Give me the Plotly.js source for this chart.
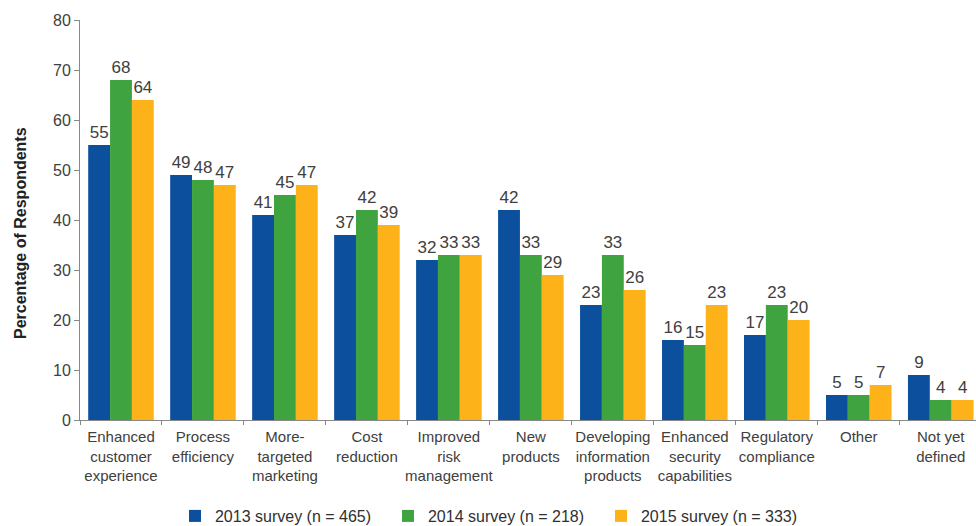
<!DOCTYPE html>
<html><head><meta charset="utf-8">
<script src="https://cdn.plot.ly/plotly-3.0.1.min.js"></script>
<style>html,body{margin:0;padding:0;background:#fff;}#chart{width:976px;height:526px;}</style>
</head><body><div id="chart"></div>
<script>
const categories = ["Enhanced<br>customer<br>experience","Process<br>efficiency","More-<br>targeted<br>marketing","Cost<br>reduction","Improved<br>risk<br>management","New<br>products","Developing<br>information<br>products","Enhanced<br>security<br>capabilities","Regulatory<br>compliance","Other","Not yet<br>defined"];
const seriesNames = ["2013 survey (n = 465)","2014 survey (n = 218)","2015 survey (n = 333)"];
const values2013 = [55,49,41,37,32,42,23,16,17,5,9];
const values2014 = [68,48,45,42,33,33,33,15,23,5,4];
const values2015 = [64,47,47,39,33,29,26,23,20,7,4];
const yTicks = [0,10,20,30,40,50,60,70,80];
const yTitle = "Percentage of Respondents";

const colors = ["#0b4f9d","#3fa33f","#fdb21a"];
const allVals = [values2013, values2014, values2015];
const traces = allVals.map((v,i)=>({
  type:'bar', x:categories, y:v, name:seriesNames[i],
  marker:{color:colors[i]},
  text:v.map(String), textposition:'outside', cliponaxis:false,
  textfont:{family:'Liberation Sans, Arial, sans-serif', size:17, color:'#404040'}
}));
const layout = {
  width:976, height:526,
  margin:{l:80, r:0, t:20, b:106},
  paper_bgcolor:'#fff', plot_bgcolor:'#fff',
  font:{family:'Liberation Sans, Arial, sans-serif', color:'#404040', size:14},
  barmode:'group', bargap:0.2, bargroupgap:0,
  showlegend:true,
  legend:{orientation:'h', x:0.106, xanchor:'left', yref:'container', y:0.019, yanchor:'middle',
    entrywidth:168, entrywidthmode:'pixels', itemwidth:30,
    font:{size:16, color:'#303030'}, traceorder:'normal'},
  xaxis:{type:'category', range:[-0.5,10.43], showline:true, linecolor:'#888', linewidth:1,
    ticks:'outside', tickson:'boundaries', ticklen:4, tickcolor:'#888', tickangle:0,
    ticklabelstandoff:3,
    tickfont:{size:15, color:'#404040'}, showgrid:false, zeroline:false, automargin:false},
  yaxis:{range:[0,80], tickvals:yTicks, showline:true, linecolor:'#888', linewidth:1,
    ticks:'outside', ticklen:5, tickcolor:'#888', showgrid:false, zeroline:false,
    tickfont:{size:16, color:'#404040'}, automargin:false},
  annotations:[{text:'<b>'+yTitle+'</b>', textangle:-90, xref:'paper', yref:'paper',
    x:0, xshift:-60, xanchor:'center', y:0.4675, yanchor:'middle', showarrow:false,
    font:{size:16, color:'#222'}}]
};
Plotly.newPlot('chart', traces, layout, {displayModeBar:false, staticPlot:true});
</script></body></html>
